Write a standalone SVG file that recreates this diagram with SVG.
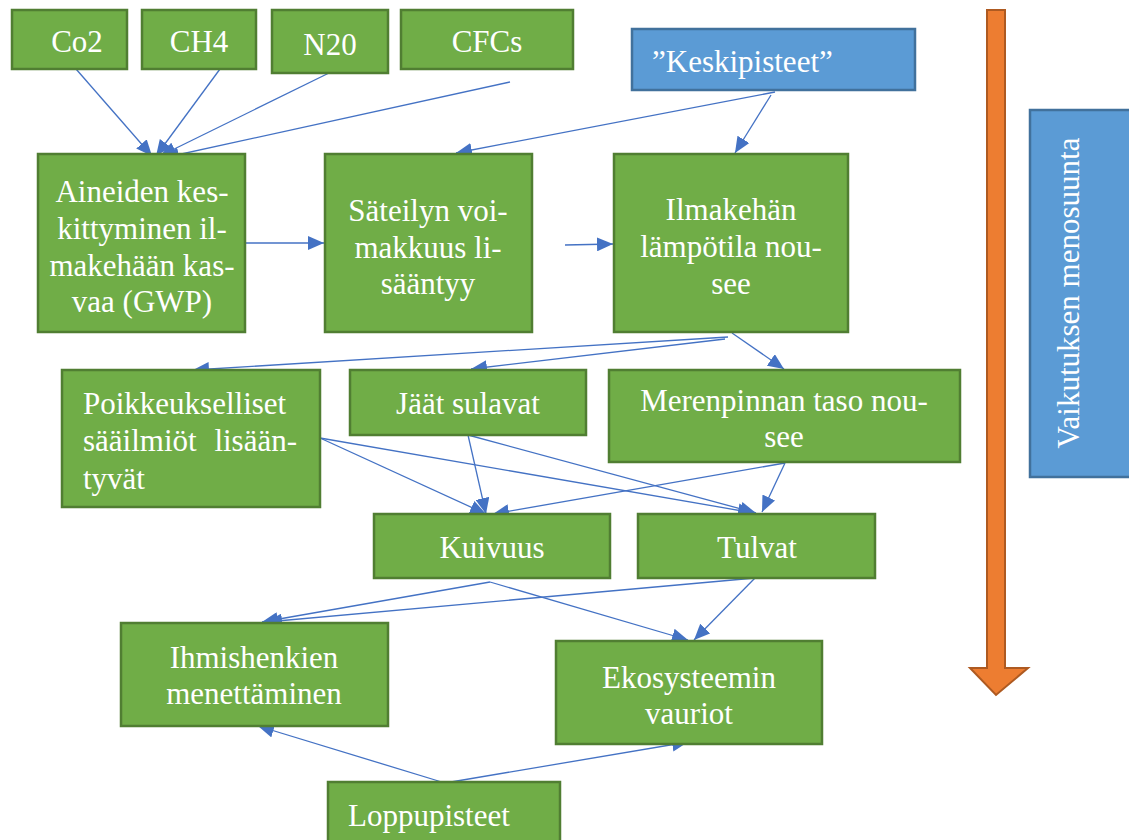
<svg xmlns="http://www.w3.org/2000/svg" width="1129" height="840" viewBox="0 0 1129 840">
<defs>
<style>
.g{fill:#70AD47;stroke:#507E32;stroke-width:2.5}
.b{fill:#5B9BD5;stroke:#41719C;stroke-width:2.5}
.t{font-family:'Liberation Serif','Times New Roman',serif;font-size:31px;fill:#fff;text-anchor:middle}
.l{text-anchor:start}
.c{stroke:#4472C4;stroke-width:1.3;fill:none;marker-end:url(#ah)}
</style>
<marker id="ah" markerUnits="userSpaceOnUse" markerWidth="17" markerHeight="14" refX="16" refY="7" orient="auto">
<path d="M0,0 L16,7 L0,14 z" fill="#4472C4"/>
</marker>
</defs>
<rect width="1129" height="840" fill="#fff"/>
<g id="connectors">
<line class="c" x1="76" y1="69" x2="152" y2="156"/>
<line class="c" x1="220" y1="69" x2="156" y2="156"/>
<line class="c" x1="329" y1="73" x2="160" y2="156"/>
<line class="c" x1="510" y1="82" x2="163" y2="158"/>
<line class="c" x1="775" y1="92" x2="456" y2="153"/>
<line class="c" x1="771" y1="95" x2="735" y2="153"/>
<line class="c" x1="245" y1="243" x2="324" y2="243"/>
<line class="c" x1="565" y1="245" x2="613" y2="244"/>
<line class="c" x1="728" y1="337" x2="193" y2="370"/>
<line class="c" x1="725" y1="339" x2="471" y2="369"/>
<line class="c" x1="732" y1="333" x2="784" y2="369"/>
<line class="c" x1="320" y1="438" x2="486" y2="514"/>
<line class="c" x1="320" y1="438" x2="754" y2="513"/>
<line class="c" x1="468" y1="435" x2="486" y2="514"/>
<line class="c" x1="468" y1="435" x2="756" y2="513"/>
<line class="c" x1="785" y1="463" x2="493" y2="514"/>
<line class="c" x1="785" y1="463" x2="762" y2="512"/>
<line class="c" x1="490" y1="582" x2="262" y2="622"/>
<line class="c" x1="490" y1="582" x2="688" y2="640"/>
<line class="c" x1="755" y1="578" x2="266" y2="622"/>
<line class="c" x1="755" y1="578" x2="694" y2="640"/>
<line class="c" x1="445" y1="783" x2="258" y2="726"/>
<line class="c" x1="445" y1="783" x2="688" y2="742"/>
</g>
<g id="co2"><rect class="g" x="12" y="10" width="115" height="59"/><text class="t" x="77" y="52">Co2</text></g>
<g id="ch4"><rect class="g" x="142" y="10" width="114" height="59"/><text class="t" x="199" y="52">CH4</text></g>
<g id="n20"><rect class="g" x="272" y="10" width="116" height="63"/><text class="t" x="330" y="55">N20</text></g>
<g id="cfcs"><rect class="g" x="401" y="10" width="172" height="59"/><text class="t" x="487" y="52">CFCs</text></g>
<g id="keskipisteet"><rect class="b" x="632" y="29" width="283" height="61"/><text class="t l" x="652" y="72">”Keskipisteet”</text></g>
<g id="suunta-nuoli"><path d="M987,10 H1005 V668 H1028 L996,695 L970,668 H987 Z" fill="#ED7D31" stroke="#AE5A21" stroke-width="2"/></g>
<g id="menosuunta"><rect class="b" x="1030" y="110" width="101" height="367"/><text class="t" font-size="32" transform="translate(1079,293) rotate(-90)">Vaikutuksen menosuunta</text></g>
<g id="aineiden"><rect class="g" x="38" y="154" width="207" height="178"/>
<text class="t" x="142" y="202">Aineiden kes-</text><text class="t" x="142" y="239">kittyminen il-</text><text class="t" x="142" y="276">makehään kas-</text><text class="t" x="142" y="312">vaa (GWP)</text></g>
<g id="sateilyn"><rect class="g" x="325" y="154" width="207" height="178"/>
<text class="t" x="428" y="221">Säteilyn voi-</text><text class="t" x="428" y="258">makkuus li-</text><text class="t" x="428" y="294">sääntyy</text></g>
<g id="ilmakehan"><rect class="g" x="614" y="154" width="234" height="178"/>
<text class="t" x="731" y="220">Ilmakehän</text><text class="t" x="731" y="257">lämpötila nou-</text><text class="t" x="731" y="294">see</text></g>
<g id="poikkeukselliset"><rect class="g" x="62" y="370" width="258" height="137"/>
<text class="t l" x="83" y="414">Poikkeukselliset</text><text class="t l" x="83" y="451" word-spacing="10">sääilmiöt lisään-</text><text class="t l" x="83" y="489">tyvät</text></g>
<g id="jaat"><rect class="g" x="350" y="370" width="236" height="65"/><text class="t" x="468" y="414">Jäät sulavat</text></g>
<g id="merenpinnan"><rect class="g" x="609" y="370" width="351" height="92"/>
<text class="t" x="784" y="411">Merenpinnan taso nou-</text><text class="t" x="784" y="447">see</text></g>
<g id="kuivuus"><rect class="g" x="374" y="514" width="236" height="64"/><text class="t" x="492" y="558">Kuivuus</text></g>
<g id="tulvat"><rect class="g" x="638" y="514" width="237" height="64"/><text class="t" x="757" y="558">Tulvat</text></g>
<g id="ihmishenkien"><rect class="g" x="121" y="623" width="267" height="103"/>
<text class="t" x="254" y="668">Ihmishenkien</text><text class="t" x="254" y="704">menettäminen</text></g>
<g id="ekosysteemin"><rect class="g" x="556" y="641" width="266" height="103"/>
<text class="t" x="689" y="688">Ekosysteemin</text><text class="t" x="689" y="724">vauriot</text></g>
<g id="loppupisteet"><rect class="g" x="328" y="782" width="232" height="70"/><text class="t l" x="348" y="826">Loppupisteet</text></g>
</svg>
